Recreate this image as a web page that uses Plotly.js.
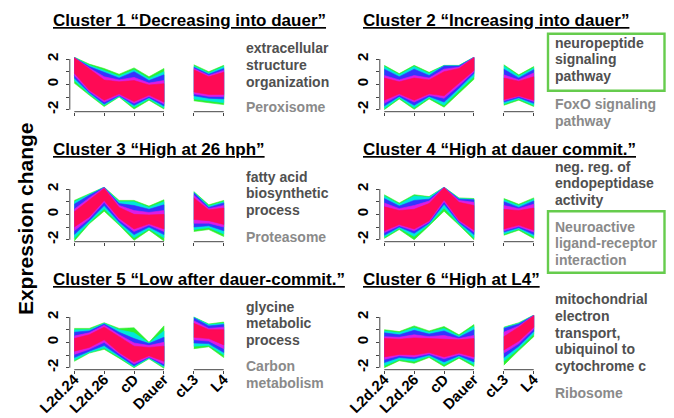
<!DOCTYPE html>
<html><head><meta charset="utf-8">
<script src="https://cdn.plot.ly/plotly-3.0.1.min.js"></script>
<style>html,body{margin:0;padding:0;background:#fff;}</style>
</head><body>
<div id="chart" style="width:674px;height:418px"></div>
<script>
// ---------------- DATA ----------------
const timepoints = ['L2d.24','L2d.26','cD','Dauer','cL3','L4'];
const tickPos = [1,2,3,4,5,6];
// sample positions of the band outlines (first block: L2d.24..Dauer, second block: cL3..L4)
const segA_x = [1,1.5,2,2.5,3,3.5,4];
const segB_x = [5,5.5,6];
// membership levels: low (green) -> high (red)
const levelColors = ['#2ef02e','#00e8dc','#3434ff','#dc1ce6','#ff0a55'];

// each row: 7 values on segA_x then 3 values on segB_x
const c1_upper = [
  [2.15,1.6,1.25,0.8,1.3,0.6,1.25, 1.55,1.0,1.5],
  [2.13,1.5,1.1,0.65,1.15,0.45,1.0, 1.45,0.9,1.4],
  [2.12,1.4,0.95,0.5,1.0,0.3,0.75, 1.35,0.8,1.25],
  [2.11,1.3,0.6,0.35,0.55,0.1,0.3, 1.25,0.7,1.1],
  [2.1,1.2,0.35,0.2,0.3,-0.05,0.05, 1.15,0.6,0.95]];
const c1_lower = [
  [0.1,-0.85,-1.75,-1.0,-1.95,-1.25,-1.95, -1.3,-1.45,-1.6],
  [0.3,-0.75,-1.65,-0.95,-1.8,-1.15,-1.85, -1.15,-1.3,-1.45],
  [0.5,-0.65,-1.55,-0.9,-1.65,-1.05,-1.7, -0.9,-1.1,-1.15],
  [0.7,-0.55,-1.4,-0.85,-1.5,-0.95,-1.55, -0.75,-0.95,-0.95],
  [0.9,-0.45,-1.25,-0.75,-1.35,-0.85,-1.4, -0.6,-0.8,-0.8]];

const c2_upper = [
  [1.5,0.85,1.5,0.95,1.5,1.5,2.15, 1.55,0.75,1.4],
  [1.4,0.75,1.4,0.85,1.48,1.48,2.14, 1.45,0.65,1.3],
  [1.2,0.6,1.2,0.7,1.45,1.45,2.13, 1.2,0.5,1.15],
  [0.7,0.35,0.7,0.5,1.2,1.35,2.12, 0.75,0.35,0.9],
  [0.5,0.2,0.5,0.35,1.0,1.25,2.1, 0.5,0.25,0.6]];
const c2_lower = [
  [-2.0,-1.15,-1.97,-1.15,-1.8,-0.7,0.4, -1.65,-1.25,-1.75],
  [-1.9,-1.05,-1.85,-1.05,-1.65,-0.5,0.6, -1.55,-1.15,-1.65],
  [-1.7,-0.95,-1.65,-0.95,-1.4,-0.3,0.85, -1.4,-1.05,-1.5],
  [-1.5,-0.85,-1.4,-0.85,-1.1,-0.1,1.0, -1.3,-0.95,-1.35],
  [-1.25,-0.75,-1.25,-0.75,-0.9,0.1,1.1, -1.2,-0.9,-1.25]];

const c3_upper = [
  [1.1,1.65,2.15,1.1,1.1,0.65,1.15, 1.8,0.75,1.1],
  [1.0,1.6,2.14,1.0,1.0,0.55,1.0, 1.75,0.65,1.0],
  [0.8,1.5,2.13,0.85,0.7,0.4,0.75, 1.7,0.55,0.9],
  [0.4,1.3,2.1,0.7,0.3,0.15,0.3, 1.5,0.45,0.7],
  [0.2,1.15,2.05,0.55,0.0,-0.05,0.0, 1.3,0.35,0.5]];
const c3_lower = [
  [-2.1,-0.75,0.25,-0.85,-2.05,-1.25,-2.1, -1.35,-1.2,-1.75],
  [-1.9,-0.65,0.45,-0.75,-1.85,-1.15,-1.85, -1.2,-1.05,-1.55],
  [-1.6,-0.5,0.7,-0.6,-1.6,-1.0,-1.6, -1.0,-0.9,-1.3],
  [-1.3,-0.35,0.95,-0.45,-1.35,-0.85,-1.35, -0.7,-0.7,-1.0],
  [-1.0,-0.2,1.1,-0.3,-1.15,-0.75,-1.15, -0.4,-0.5,-0.8]];

const c4_upper = [
  [1.55,0.9,1.55,1.4,2.15,1.3,1.25, 1.25,0.8,1.3],
  [1.45,0.8,1.45,1.35,2.14,1.25,1.2, 1.15,0.7,1.2],
  [1.25,0.65,1.1,1.2,2.13,1.2,1.15, 1.0,0.55,1.05],
  [0.9,0.45,0.7,1.05,2.12,1.1,0.95, 0.7,0.45,0.8],
  [0.6,0.3,0.4,0.85,2.1,0.95,0.7, 0.4,0.3,0.5]];
const c4_lower = [
  [-1.9,-1.2,-2.0,-0.9,0.25,-0.85,-2.0, -1.65,-1.25,-1.9],
  [-1.8,-1.1,-1.75,-0.8,0.5,-0.75,-1.85, -1.55,-1.15,-1.75],
  [-1.65,-1.0,-1.5,-0.7,0.8,-0.65,-1.6, -1.4,-1.05,-1.6],
  [-1.45,-0.9,-1.3,-0.6,1.0,-0.55,-1.4, -1.3,-0.95,-1.4],
  [-1.3,-0.8,-1.15,-0.5,1.15,-0.45,-1.25, -1.15,-0.85,-1.25]];

const c5_upper = [
  [1.1,1.1,1.55,1.1,1.15,0.0,1.3, 2.0,1.45,1.6],
  [1.0,1.0,1.5,1.0,0.75,-0.05,0.9, 1.98,1.4,1.5],
  [0.8,0.9,1.45,0.8,0.3,-0.1,0.4, 1.95,1.3,1.4],
  [0.5,0.75,1.35,0.6,-0.05,-0.25,0.0, 1.7,1.1,1.2],
  [0.3,0.6,1.2,0.45,-0.3,-0.4,-0.3, 1.5,1.0,1.0]];
const c5_lower = [
  [-1.5,-0.85,-0.55,-1.25,-2.0,-1.3,-2.05, -0.5,-0.35,-1.2],
  [-1.4,-0.8,-0.45,-1.15,-1.95,-1.25,-1.95, -0.3,-0.25,-1.0],
  [-1.2,-0.7,-0.25,-1.05,-1.85,-1.2,-1.85, -0.05,-0.1,-0.8],
  [-0.95,-0.55,0.0,-0.9,-1.7,-1.15,-1.7, 0.2,0.1,-0.5],
  [-0.7,-0.4,0.2,-0.8,-1.55,-1.05,-1.5, 0.4,0.3,-0.2]];

const c6_upper = [
  [1.0,0.85,1.3,0.9,1.25,0.6,1.4, 1.2,1.55,2.15],
  [0.9,0.75,1.15,0.8,1.1,0.5,1.25, 1.15,1.5,2.14],
  [0.75,0.6,0.95,0.65,0.9,0.4,1.0, 1.1,1.45,2.13],
  [0.45,0.4,0.6,0.45,0.55,0.3,0.55, 0.8,1.3,2.12],
  [0.3,0.25,0.35,0.3,0.3,0.2,0.3, 0.45,1.2,2.1]];
const c6_lower = [
  [-2.0,-1.45,-1.65,-1.2,-1.9,-1.25,-1.9, -1.8,-0.65,0.45],
  [-1.85,-1.35,-1.5,-1.1,-1.75,-1.15,-1.75, -1.5,-0.5,0.65],
  [-1.6,-1.2,-1.3,-1.0,-1.55,-1.05,-1.55, -1.2,-0.3,0.85],
  [-1.35,-1.05,-1.15,-0.9,-1.3,-0.95,-1.3, -0.85,-0.1,1.05],
  [-1.15,-0.95,-1.0,-0.8,-1.15,-0.85,-1.15, -0.6,0.1,1.2]];

const clusterTitles = ['Cluster 1 “Decreasing into dauer”','Cluster 2 “Increasing into dauer”',
  'Cluster 3 “High at 26 hph”','Cluster 4 “High at dauer commit.”',
  'Cluster 5 “Low after dauer-commit.”','Cluster 6 “High at L4”'];
const termsDark = [['extracellular','structure','organization'],['neuropeptide','signaling','pathway'],
  ['fatty acid','biosynthetic','process'],['neg. reg. of','endopeptidase','activity'],
  ['glycine','metabolic','process'],['mitochondrial','electron','transport,','ubiquinol to','cytochrome c']];
const termsLight = [['Peroxisome'],['FoxO signaling','pathway'],['Proteasome'],
  ['Neuroactive','ligand-receptor','interaction'],['Carbon','metabolism'],['Ribosome']];
const yTickVals = [-2,-1,0,1,2];
const yTickText = ['-2','','0','','2'];
const yTitle = 'Expression change';

// ---------------- LAYOUT CONSTANTS (pixels) ----------------
const W = 674, H = 418;
const FONT = '"Liberation Sans", Arial, Helvetica, sans-serif';
const colLeft = [69.8, 379.8], colRight = [228.2, 538.2];
const rowTop = [57, 187, 315], rowBot = [111.7, 241.7, 369.7];
const xRange = [0.85, 6.15], yRange = [-2.16, 2.16];
const titleX = [50.7, 360.7], titleBase = [26.7, 155, 285.5];
const termX = [244.3, 552.7];
const darkBase = [53.3, 47.7, 181.7, 171.7, 311.7, 304.3];
const lightBase = [112.3, 109.3, 241.7, 231.7, 371, 398.3];
const lineStep = 16.6;
const boxes = [[548, 33.7, 664.5, 90.7], [548, 211.3, 664.5, 272.8]];

const uppers = [c1_upper,c2_upper,c3_upper,c4_upper,c5_upper,c6_upper];
const lowers = [c1_lower,c2_lower,c3_lower,c4_lower,c5_lower,c6_lower];

const px = p => p / W, py = p => 1 - p / H;
const fx = v => (v - xRange[0]) / (xRange[1] - xRange[0]);
const fy = v => (v - yRange[0]) / (yRange[1] - yRange[0]);

const traces = [];
const layout = {
  width: W, height: H, margin: {l:0, r:0, t:0, b:0},
  paper_bgcolor: '#fff', plot_bgcolor: 'rgba(0,0,0,0)',
  showlegend: false, annotations: [], shapes: [],
  font: {family: FONT, color: '#000'}
};

for (let k = 0; k < 6; k++) {
  const col = k % 2, row = Math.floor(k / 2);
  const xa = 'x' + (k + 1), ya = 'y' + (k + 1);
  const xName = 'xaxis' + (k + 1), yName = 'yaxis' + (k + 1);
  for (let lv = 0; lv < levelColors.length; lv++) {
    const up = uppers[k][lv], lo = lowers[k][lv];
    const segs = [[segA_x, up.slice(0, 7), lo.slice(0, 7)], [segB_x, up.slice(7), lo.slice(7)]];
    segs.forEach(([sx, su, sl]) => {
      traces.push({
        type: 'scatter', mode: 'lines', xaxis: xa, yaxis: ya,
        x: sx.concat(sx.slice().reverse()),
        y: su.concat(sl.slice().reverse()),
        fill: 'toself', fillcolor: levelColors[lv],
        line: {width: 0.6, color: levelColors[lv]}, hoverinfo: 'skip'
      });
    });
  }
  layout[xName] = {
    domain: [px(colLeft[col]), px(colRight[col])], range: xRange, anchor: ya,
    tickvals: tickPos, ticktext: row === 2 ? timepoints.map(t => '<b>' + t + '</b>') : tickPos.map(() => ''),
    tickangle: -45, ticks: 'outside', ticklen: 3, tickwidth: 1, tickcolor: '#444',
    showline: false, showgrid: false, zeroline: false, fixedrange: true,
    ticklabelstandoff: -9,
    tickfont: {family: FONT, size: 15, color: '#000'}
  };
  layout[yName] = {
    domain: [py(rowBot[row]), py(rowTop[row])], range: yRange, anchor: xa,
    tickvals: yTickVals, ticktext: yTickText.map(t => t ? '<b>' + t + '</b>' : ''),
    tickangle: -90, ticks: 'outside', ticklen: 3, tickwidth: 1, tickcolor: '#444',
    showline: false, showgrid: false, zeroline: false, fixedrange: true,
    ticklabelstandoff: 2,
    tickfont: {family: FONT, size: 15, color: '#000'}
  };
  // broken axis lines (R style)
  const ln = {color: '#444', width: 1};
  layout.shapes.push({type: 'line', xref: xa + ' domain', yref: ya + ' domain',
    x0: 0, x1: 0, y0: fy(yTickVals[0]), y1: fy(yTickVals[yTickVals.length - 1]), line: ln});
  layout.shapes.push({type: 'line', xref: xa + ' domain', yref: ya + ' domain',
    x0: fx(tickPos[0]), x1: fx(tickPos[3]), y0: 0, y1: 0, line: ln});
  layout.shapes.push({type: 'line', xref: xa + ' domain', yref: ya + ' domain',
    x0: fx(tickPos[4]), x1: fx(tickPos[5]), y0: 0, y1: 0, line: ln});

  // title
  layout.annotations.push({
    xref: 'paper', yref: 'paper', x: px(titleX[col]), y: py(titleBase[row] - 0.35 * 17),
    xanchor: 'left', yanchor: 'middle', showarrow: false,
    text: '<b>' + clusterTitles[k] + '</b>',
    font: {family: FONT, size: 17, color: '#000', lineposition: 'under'}
  });
  // terms
  termsDark[k].forEach((t, i) => layout.annotations.push({
    xref: 'paper', yref: 'paper', x: px(termX[col]), y: py(darkBase[k] + i * lineStep - 0.35 * 14),
    xanchor: 'left', yanchor: 'middle', showarrow: false, text: '<b>' + t + '</b>',
    font: {family: FONT, size: 14, color: '#505050'}
  }));
  termsLight[k].forEach((t, i) => layout.annotations.push({
    xref: 'paper', yref: 'paper', x: px(termX[col]), y: py(lightBase[k] + i * lineStep - 0.35 * 14),
    xanchor: 'left', yanchor: 'middle', showarrow: false, text: '<b>' + t + '</b>',
    font: {family: FONT, size: 14, color: '#8a8a8a'}
  }));
}
boxes.forEach(b => layout.shapes.push({type: 'rect', xref: 'paper', yref: 'paper',
  x0: px(b[0]), x1: px(b[2]), y0: py(b[3]), y1: py(b[1]),
  line: {color: '#66cc4d', width: 2.4}}));
layout.annotations.push({
  xref: 'paper', yref: 'paper', x: px(25.4), y: py(218.7), xanchor: 'center', yanchor: 'middle',
  textangle: -90, showarrow: false, text: '<b>' + yTitle + '</b>',
  font: {family: FONT, size: 21, color: '#000'}
});

Plotly.newPlot('chart', traces, layout, {staticPlot: true, displayModeBar: false});
</script>
</body></html>
